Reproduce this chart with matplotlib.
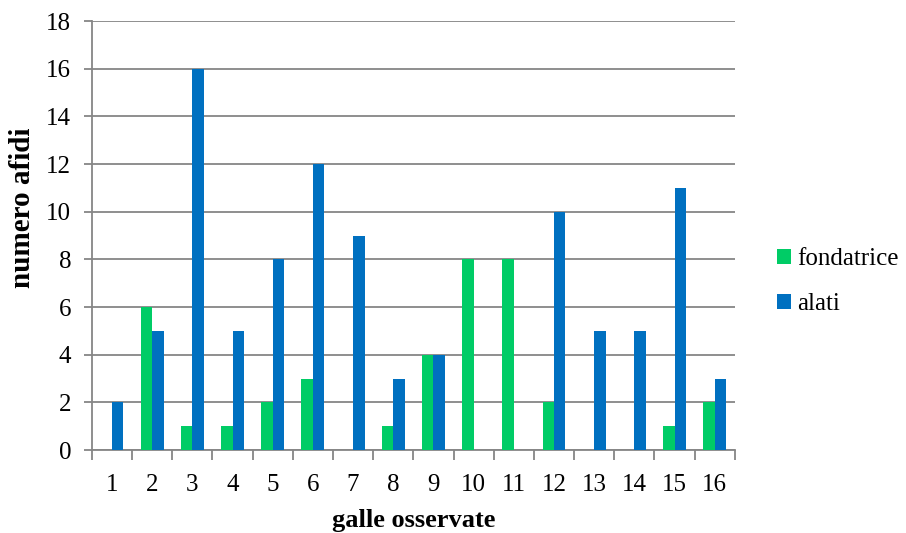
import numpy as np
import matplotlib.pyplot as plt

plt.rcParams['font.family'] = ['Liberation Serif', 'DejaVu Serif']

galle = [str(i) for i in range(1, 17)]
fondatrice = [0, 6, 1, 1, 2, 3, 0, 1, 4, 8, 8, 2, 0, 0, 1, 2]
alati = [2, 5, 16, 5, 8, 12, 9, 3, 4, 0, 0, 10, 5, 5, 11, 3]

grid_col = '#868686'
fig = plt.figure(figsize=(9.06, 5.33), dpi=100)
ax = fig.add_axes([0.1015, 0.1557, 0.7095, 0.8049])

x = np.arange(len(galle))
w = 0.285
ax.bar(x - w / 2, fondatrice, w, color='#00CC66', label='fondatrice', zorder=3)
ax.bar(x + w / 2, alati, w, color='#0070C0', label='alati', zorder=3)

ax.set_xlim(-0.5, len(galle) - 0.5)
ax.set_ylim(0, 18)
ax.set_yticks(range(0, 19, 2))
ax.yaxis.grid(True, color=grid_col, linewidth=1.3, zorder=0)

# category labels centred, tick marks between categories
ax.set_xticks(x)
ax.set_xticklabels(galle, fontsize=18)
ax.set_xticks(np.arange(-0.5, len(galle)), minor=True)
ax.tick_params(axis='x', which='major', length=0, pad=17)
ax.tick_params(axis='x', which='minor', length=7, width=1.3, color=grid_col)
ax.tick_params(axis='y', length=6, width=1.3, color=grid_col, labelsize=18, pad=9)

for s in ['top', 'right']:
    ax.spines[s].set_visible(False)
for s in ['left', 'bottom']:
    ax.spines[s].set_color(grid_col)
    ax.spines[s].set_linewidth(1.3)

ax.set_ylabel('numero afidi', fontsize=21, fontweight='bold')
ax.yaxis.set_label_coords(-0.087, 0.565)
ax.set_xlabel('galle osservate', fontsize=19, fontweight='bold', va='bottom')
ax.xaxis.set_label_coords(0.5, -0.19)

fig.legend(loc='center left', bbox_to_anchor=(0.833, 0.472), frameon=False,
           fontsize=18, handlelength=0.55, handleheight=0.55,
           handletextpad=0.25, labelspacing=0.92)

fig.savefig('out.png', dpi=100)
